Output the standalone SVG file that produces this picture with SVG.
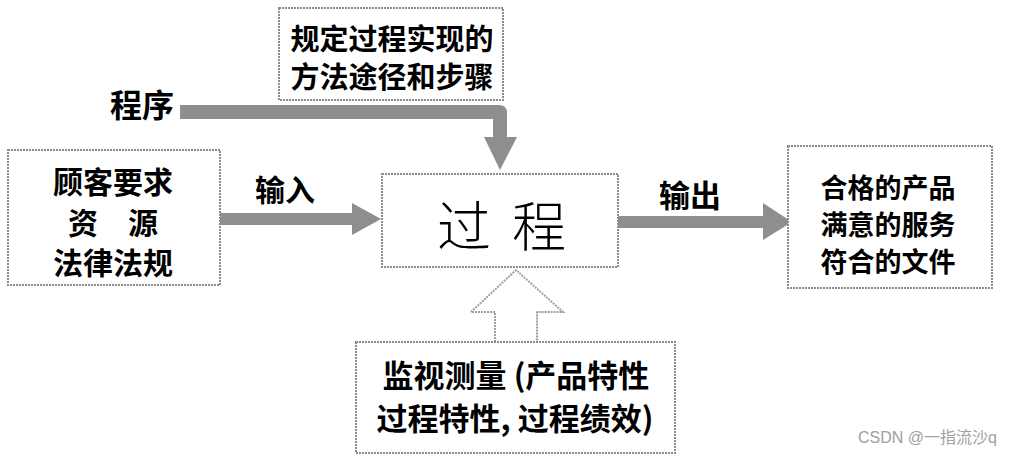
<svg xmlns="http://www.w3.org/2000/svg" width="1012" height="462" viewBox="0 0 1012 462">
<style>
.box{fill:#fff;stroke:#8c8c8c;stroke-width:2;stroke-dasharray:2 1}
.lbl{font-family:"Noto Sans CJK SC","Liberation Sans",sans-serif;font-weight:700;fill:#000;dominant-baseline:central;text-anchor:middle}
.arr{fill:#8e8e8e}
.hollow{fill:#fff;stroke:#a0a0a0;stroke-width:2;stroke-dasharray:2 1}
</style>
<rect width="1012" height="462" fill="#fff"/>
<g id="connectors">
<path class="arr" d="M180,105 H499 Q507,105 507,113 V137 H517 L500,170 L484,137 H493 V119 H180 Z"/>
<path class="arr" d="M220,213 H352 V203 L381,219 L352,235 V225 H220 Z"/>
<path class="arr" d="M618,216 H763 V203 L792,222 L763,240 V228 H618 Z"/>
<polyline class="hollow" points="495,342 495,312 471,312 516,270 563,312 537,312 537,342"/>
</g>
<g id="node-method">
<rect class="box" x="279" y="8" width="224" height="92"/>
<text class="lbl" x="392" y="37" font-size="29">规定过程实现的</text>
<text class="lbl" x="392" y="75" font-size="29">方法途径和步骤</text>
</g>
<g id="label-program">
<text class="lbl" x="142" y="103" font-size="32">程序</text>
</g>
<g id="node-input">
<rect class="box" x="8" y="150" width="212" height="135"/>
<text class="lbl" x="113" y="180" font-size="30">顾客要求</text>
<text class="lbl" x="113" y="221" font-size="30">资　源</text>
<text class="lbl" x="113" y="261" font-size="30">法律法规</text>
</g>
<g id="label-in">
<text class="lbl" x="285" y="188" font-size="30">输入</text>
</g>
<g id="node-process">
<rect class="box" x="382" y="174" width="236" height="93"/>
<text x="464" y="223" font-size="54" font-family="Noto Sans CJK SC,sans-serif" font-weight="300" text-anchor="middle" dominant-baseline="central">过</text>
<text x="539" y="223" font-size="54" font-family="Noto Sans CJK SC,sans-serif" font-weight="300" text-anchor="middle" dominant-baseline="central">程</text>
</g>
<g id="label-out">
<text class="lbl" x="690" y="193" font-size="31">输出</text>
</g>
<g id="node-output">
<rect class="box" x="788" y="146" width="204" height="142"/>
<text class="lbl" x="888" y="186" font-size="27">合格的产品</text>
<text class="lbl" x="888" y="223" font-size="27">满意的服务</text>
<text class="lbl" x="888" y="260" font-size="27">符合的文件</text>
</g>
<g id="node-monitor">
<rect class="box" x="356" y="342" width="319" height="111"/>
<text class="lbl" x="516" y="373" font-size="31">监视测量 (产品特性</text>
<text class="lbl" x="515" y="416" font-size="31">过程特性, 过程绩效)</text>
</g>
<text x="997" y="437" font-size="16" font-family="Liberation Sans,Noto Sans CJK SC,sans-serif" fill="#a0a0a0" text-anchor="end" dominant-baseline="central">CSDN @一指流沙q</text>
</svg>
